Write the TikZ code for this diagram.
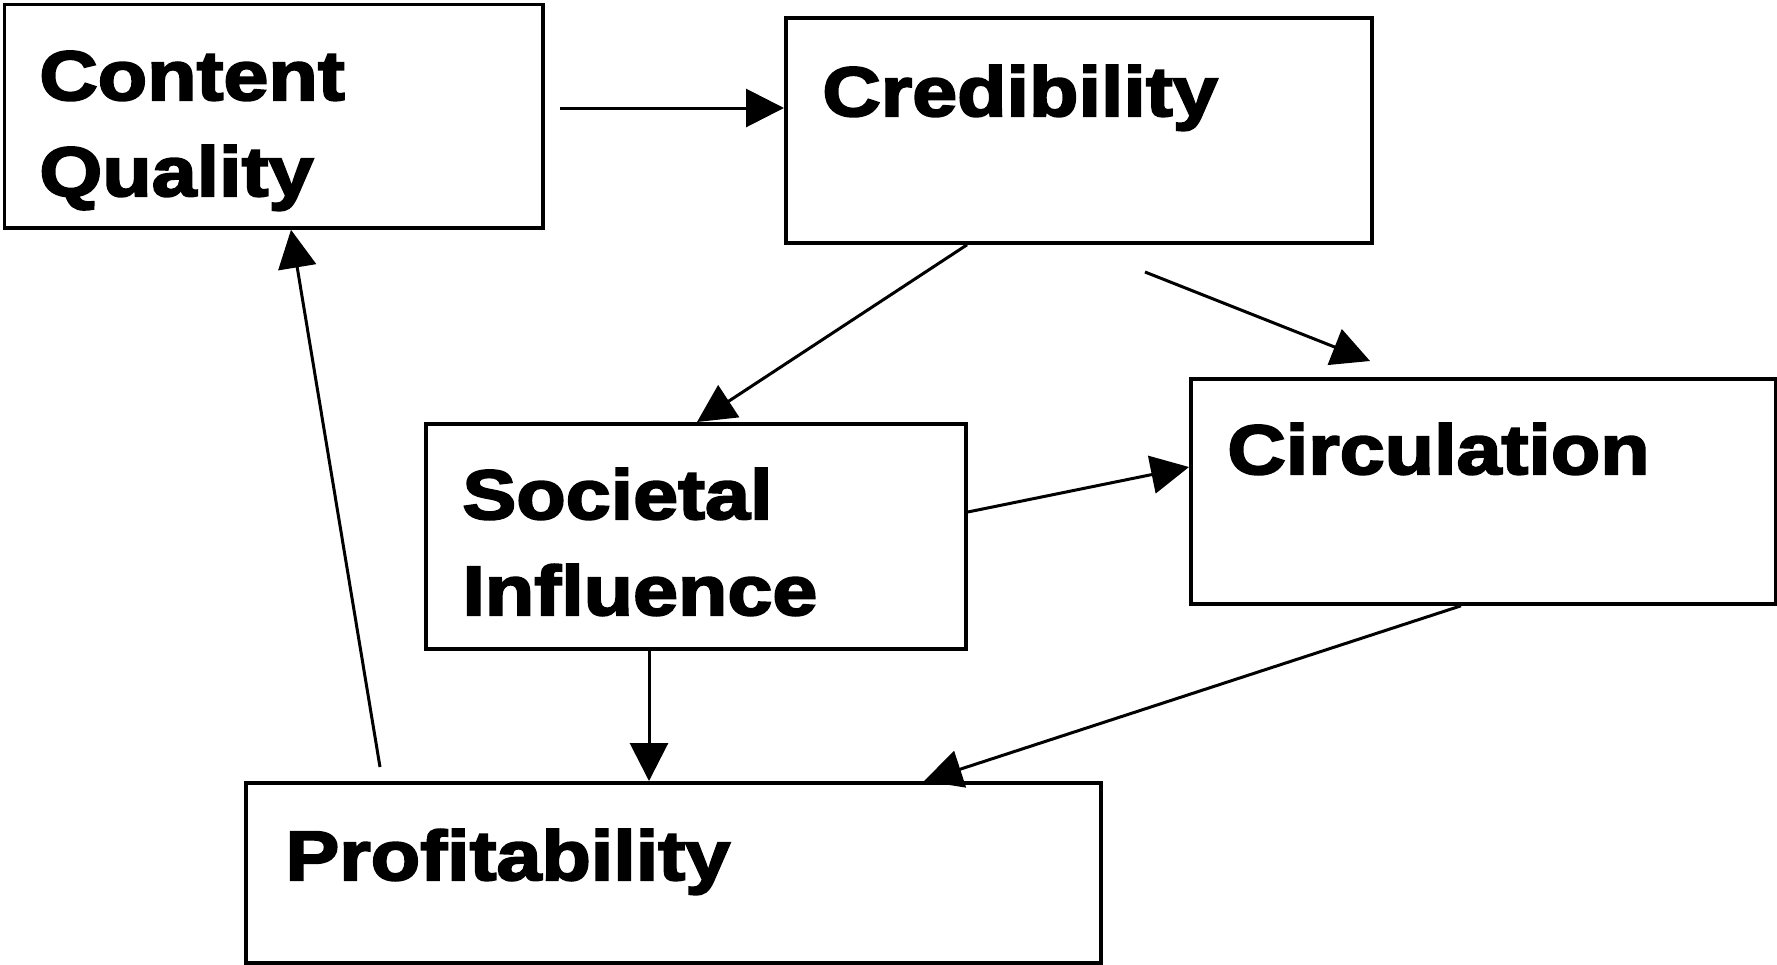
\documentclass[tikz,border=0pt]{standalone}
\usepackage{fontspec}
\newfontfamily\lblfont{Liberation Sans}[FakeStretch=1.155, BoldFeatures={FakeBold=3}]
\usetikzlibrary{arrows.meta,calc}
\begin{document}
\begin{tikzpicture}[x=0.5pt,y=-0.5pt,
  box/.style={draw, line width=1.9pt, inner sep=0pt, anchor=north west},
  lbl/.style={inner sep=0pt, anchor=base west, align=left,
    font=\lblfont\bfseries\fontsize{35}{48}\selectfont},
  arr/.style={line width=1.5pt, -{Triangle[length=19pt,width=19pt]}}]
\useasboundingbox (0,0) rectangle (1777,964);
% boxes
\node[box, minimum width=269.25pt, minimum height=111.75pt] (cq) at (2.5,2.5) {};
\node[box, minimum width=293pt, minimum height=112.5pt] (cred) at (784,16) {};
\node[box, minimum width=292.5pt, minimum height=112.5pt] (circ) at (1189,377) {};
\node[box, minimum width=270pt, minimum height=112.5pt] (soc) at (424,422) {};
\node[box, minimum width=427.5pt, minimum height=90pt] (prof) at (244,781) {};
% labels (base = baseline of last line)
\node[lbl] (cqt) at (39,196) {Content\\Quality};
\node[lbl] (credt) at (822,116) {Credibility};
\node[lbl] (circt) at (1227,474) {Circulation};
\node[lbl] (soct) at (462,615) {Societal\\Influence};
\node[lbl] (proft) at (285,880) {Profitability};
% connectors
\coordinate (s1) at (560,108);
\draw[arr] (s1) -- (s1 -| cred.west);
\draw[arr] ($(cred.south west)+(183,0)$) -- ($(soc.north west)+(273,0)$);
\coordinate (s3) at (1145,272);
\coordinate (e3) at (1370,361);
\draw[arr] (s3) -- (e3);
\draw[arr] ($(soc.north east)+(0,90)$) -- ($(circ.north west)+(0,90)$);
\coordinate (s5) at ($(soc.south west)+(225,0)$);
\draw[arr] (s5) -- (s5 |- prof.north);
\draw[arr] ($(circ.south west)+(272,0)$) -- ($(prof.north west)+(680,0)$);
\coordinate (s7) at (380,767);
\draw[arr] (s7) -- ($(cq.south west)+(288.5,0)$);
\end{tikzpicture}
\end{document}
